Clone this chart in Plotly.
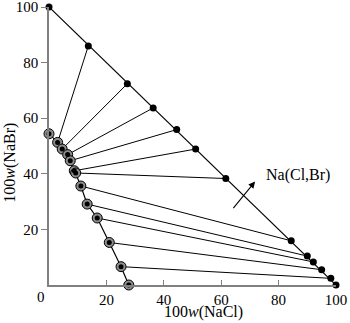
import plotly.graph_objects as go

# Liquid (saturated solution) points: 100w(NaCl), 100w(NaBr)
liquid_x = [0, 3.0, 4.6, 6.5, 7.4, 8.8, 9.3, 11.1, 13.3, 16.8, 21.0, 25.1, 27.8]
liquid_y = [54.4, 51.3, 48.9, 46.9, 44.7, 41.1, 40.3, 35.6, 29.1, 24.1, 15.3, 6.6, 0]
# Solid solution points on the diagonal
solid_x = [0, 13.7, 27.3, 36.3, 44.5, 51.1, 61.6, 84.4, 90.0, 92.1, 95.0, 98.2, 100]
solid_y = [100, 86.0, 72.4, 63.7, 55.9, 48.9, 38.3, 15.9, 10.4, 8.3, 5.5, 2.4, 0]
tick_vals = [20, 40, 60, 80, 100]
tick_text = ["20", "40", "60", "80", "100"]

FONT = "Liberation Serif"

tie_x, tie_y = [], []
for i in range(1, len(liquid_x) - 1):
    tie_x += [liquid_x[i], solid_x[i], None]
    tie_y += [liquid_y[i], solid_y[i], None]

fig = go.Figure()
fig.add_trace(go.Scatter(x=tie_x, y=tie_y, mode="lines",
                         line=dict(color="black", width=1), cliponaxis=False, hoverinfo="skip"))
fig.add_trace(go.Scatter(x=[solid_x[0], solid_x[-1]], y=[solid_y[0], solid_y[-1]], mode="lines",
                         line=dict(color="black", width=1.2), cliponaxis=False))
fig.add_trace(go.Scatter(x=liquid_x, y=liquid_y, mode="lines",
                         line=dict(color="black", width=1.2), cliponaxis=False))
fig.add_trace(go.Scatter(x=solid_x, y=solid_y, mode="markers",
                         marker=dict(color="black", size=7), cliponaxis=False))
fig.add_trace(go.Scatter(x=liquid_x, y=liquid_y, mode="markers",
                         marker=dict(color="#8c8c8c", size=10, line=dict(color="black", width=1)),
                         cliponaxis=False))
fig.add_trace(go.Scatter(x=liquid_x, y=liquid_y, mode="markers",
                         marker=dict(color="black", size=5), cliponaxis=False))

fig.update_layout(
    width=350, height=323,
    margin=dict(l=49, r=14, t=7, b=38),
    plot_bgcolor="white", paper_bgcolor="white",
    showlegend=False,
    font=dict(family=FONT, size=15, color="black"),
    xaxis=dict(range=[0, 100], showgrid=False, zeroline=False, showline=True,
               linecolor="#808080", linewidth=1.5, ticks="inside", ticklen=5,
               tickcolor="#808080", tickvals=tick_vals, ticktext=tick_text,
               automargin=False, ticklabeloverflow="allow",
               tickfont=dict(family=FONT, size=15)),
    yaxis=dict(range=[0, 100], showgrid=False, zeroline=False, showline=True,
               linecolor="#808080", linewidth=1.5, ticks="outside", ticklen=6,
               tickcolor="#808080", tickvals=tick_vals, ticktext=tick_text,
               automargin=False, ticklabeloverflow="allow",
               tickfont=dict(family=FONT, size=15)),
    annotations=[
        dict(text="0", xref="paper", yref="paper", x=-0.028, y=-0.042, showarrow=False,
             font=dict(family=FONT, size=15), xanchor="center", yanchor="middle"),
        dict(text="100<i>w</i>(NaCl)", xref="paper", yref="paper", x=0.54, y=-0.097,
             showarrow=False, font=dict(family=FONT, size=16), xanchor="center", yanchor="middle"),
        dict(text="100<i>w</i>(NaBr)", xref="paper", yref="paper", x=-0.136, y=0.44,
             showarrow=False, font=dict(family=FONT, size=16), textangle=-90,
             xanchor="center", yanchor="middle"),
        dict(text="F", x=-3.8, y=50.8, xref="x", yref="y", showarrow=False,
             font=dict(family=FONT, size=16)),
        dict(text="E", x=30.7, y=-4.2, xref="x", yref="y", showarrow=False,
             font=dict(family=FONT, size=16)),
        dict(text="Na(Cl,Br)", x=86.8, y=39.6, xref="x", yref="y", showarrow=False,
             font=dict(family=FONT, size=16)),
        dict(x=71.8, y=37.2, ax=63.8, ay=27.1, xref="x", yref="y", axref="x", ayref="y",
             text="", showarrow=True, arrowhead=2, arrowsize=1.2, arrowwidth=1.1,
             arrowcolor="black"),
    ],
)

fig.write_html("out.html", config={"displayModeBar": False},
               post_script="document.body.style.margin='0';")
